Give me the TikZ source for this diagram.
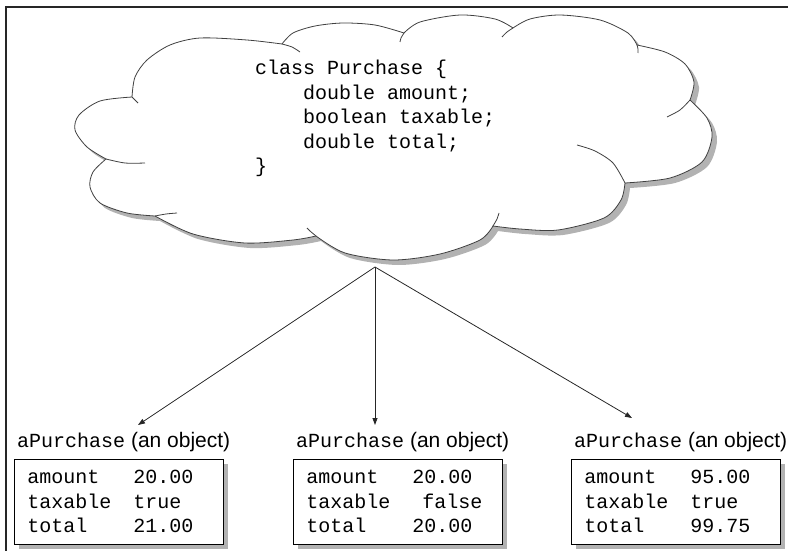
\documentclass[tikz,border=0pt]{standalone}
\usepackage{fontspec}
\setmainfont{Liberation Sans}
\setmonofont{Liberation Mono}
\usepackage{tikz}
\usetikzlibrary{arrows.meta, positioning, shadows}

\newcommand{\cloudoutline}{%
  (132,97)
  -- plot[smooth] coordinates {(132,97) (135,77) (147,60) (170,45) (200,38) (247,40) (282,44)}
  -- plot[smooth] coordinates {(282,44) (293,33) (315,26) (343,23) (375,25) (404,33)}
  -- plot[smooth] coordinates {(404,33) (420,22) (460,15) (495,19) (513,28)}
  -- plot[smooth] coordinates {(513,28) (530,19) (560,15) (600,20) (628,33) (637,45)}
  -- plot[smooth] coordinates {(637,45) (665,52) (685,64) (694,82) (690,100)}
  -- plot[smooth] coordinates {(690,100) (707,118) (712,137) (702,162) (670,178) (625,183)}
  -- plot[smooth] coordinates {(625,183) (621,200) (604,218) (558,230) (520,229) (493,226)}
  -- plot[smooth] coordinates {(493,226) (480,240) (440,254) (393,260) (345,253) (316,236)}
  -- plot[smooth] coordinates {(316,236) (293,240) (245,243) (193,234) (155,216)}
  -- plot[smooth] coordinates {(155,216) (127,213) (100,203) (90,187) (93,172) (106,159)}
  -- plot[smooth] coordinates {(106,159) (87,147) (75,130) (79,115) (100,101) (132,97)}
  -- cycle}
\newcommand{\objname}{{\ttfamily\fontsize{20}{24}\selectfont aPurchase}}
\newcommand{\field}[2]{\makebox[106pt][l]{#1}#2}

\begin{document}
\begin{tikzpicture}[
  x=1pt, y=-1pt,
  frame/.style={line width=1.5pt, black!85},
  cloudline/.style={line width=0.8pt, black!75},
  cloudshadow/.style={fill=black!30},
  code/.style={anchor=north west, inner sep=0, align=left,
               font=\ttfamily\fontsize{20}{24.5}\selectfont},
  objbox/.style={rectangle, draw, line width=0.8pt, fill=white, anchor=north west,
                 minimum width=209pt, minimum height=85pt, text width=183pt,
                 inner xsep=13pt, inner ysep=0pt, align=left,
                 font=\ttfamily\fontsize{20}{24.5}\selectfont,
                 drop shadow={shadow xshift=5pt, shadow yshift=-5pt, fill=black!30, opacity=1}},
  objlabel/.style={anchor=base west, inner sep=0, font=\fontsize{21}{24}\selectfont},
  arrow/.style={-{Triangle[length=7pt, width=5pt]}, line width=0.8pt, black!85},
]
  \useasboundingbox (0,0) rectangle (788,551);

  % Cadre
  \draw[frame] (788,7) -- (6,7) -- (6,551);

  % Nuage de la classe
  \fill[cloudshadow, shift={(5,5)}] \cloudoutline;
  \filldraw[cloudline, fill=white] \cloudoutline;
  \draw[cloudline] plot[smooth] coordinates {(132,97) (135,100) (138,103)};
  \draw[cloudline] plot[smooth] coordinates {(282,44) (292,47) (300,52)};
  \draw[cloudline] plot[smooth] coordinates {(404,33) (401,38) (400,42)};
  \draw[cloudline] plot[smooth] coordinates {(513,28) (507,32) (502,37)};
  \draw[cloudline] plot[smooth] coordinates {(637,45) (638,49) (638,53)};
  \draw[cloudline] plot[smooth] coordinates {(690,100) (680,110) (667,117)};
  \draw[cloudline] plot[smooth] coordinates {(625,183) (613,163) (595,151) (577,145)};
  \draw[cloudline] plot[smooth] coordinates {(493,226) (497,219) (499,213)};
  \draw[cloudline] plot[smooth] coordinates {(316,236) (310,231) (307,228)};
  \draw[cloudline] plot[smooth] coordinates {(155,216) (166,214) (177,213)};
  \draw[cloudline] plot[smooth] coordinates {(106,159) (125,163) (145,163)};

  \node[code] (classdef) at (255,60) {class Purchase \{\\
    \hspace*{48pt}double amount;\\
    \hspace*{48pt}boolean taxable;\\
    \hspace*{48pt}double total;\\
    \}};

  % Objets
  \node[objlabel] (label1) at (17,447) {\objname{} (an object)};
  \node[objlabel] (label2) at (296,447) {\objname{} (an object)};
  \node[objlabel] (label3) at (574,447) {\objname{} (an object)};

  \node[objbox] (box1) at (14,459) {\field{amount}{20.00}\\\field{taxable}{true}\\\field{total}{21.00}};
  \node[objbox] (box2) at (293,459) {\field{amount}{20.00}\\\field{taxable}{\hspace*{10pt}false}\\\field{total}{20.00}};
  \node[objbox] (box3) at (571,459) {\field{amount}{95.00}\\\field{taxable}{true}\\\field{total}{99.75}};

  % Flèches
  \coordinate (root) at (375,267);
  \coordinate (tip1) at (138,425);
  \coordinate (tip2) at (375,425);
  \coordinate (tip3) at (632,418);
  \draw[arrow] (root) -- (tip1);
  \draw[arrow] (root) -- (tip2);
  \draw[arrow] (root) -- (tip3);
\end{tikzpicture}
\end{document}
